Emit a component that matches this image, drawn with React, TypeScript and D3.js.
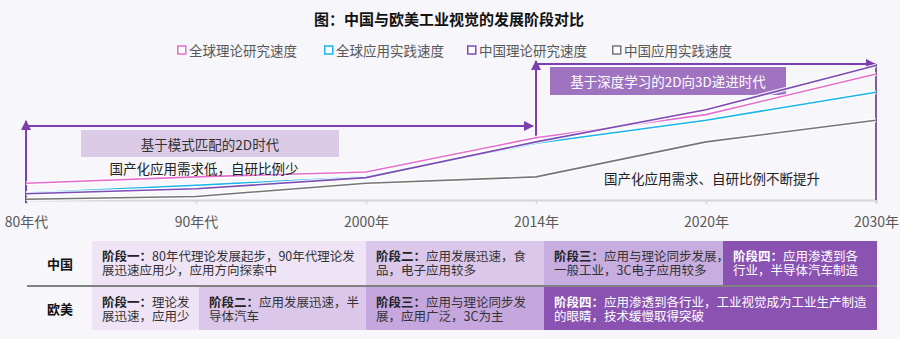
import React, { useEffect, useRef } from "react";
import * as d3 from "d3";

const categories = ["80年代", "90年代", "2000年", "2014年", "2020年", "2030年"];
const globalTheory = [1.2, 1.65, 2.0, 4.45, 6.1, 9.0];
const globalPractice = [0.5, 1.05, 1.65, 4.05, 5.7, 7.7];
const chinaTheory = [0.45, 0.8, 1.6, 4.15, 6.45, 9.6];
const chinaPractice = [0.05, 0.25, 1.2, 1.65, 4.15, 5.7];

const seriesNames = ["全球理论研究速度", "全球应用实践速度", "中国理论研究速度", "中国应用实践速度"];
const seriesColors = ["#e46fcf", "#1cb4ea", "#7d4cb5", "#767676"];

const rowLabels = ["中国", "欧美"];
const chinaStageTitles = ["阶段一：", "阶段二：", "阶段三：", "阶段四："];
const chinaStageText = [
  ["80年代理论发展起步，90年代理论发", "展迅速应用少，应用方向探索中"],
  ["应用发展迅速，食", "品，电子应用较多"],
  ["应用与理论同步发展，", "一般工业，3C电子应用较多"],
  ["应用渗透到各", "行业，半导体汽车制造"],
];
const westStageTitles = ["阶段一：", "阶段二：", "阶段三：", "阶段四："];
const westStageText = [
  ["理论发", "展迅速，应用少"],
  ["应用发展迅速，半", "导体汽车"],
  ["应用与理论同步发", "展，应用广泛，3C为主"],
  ["应用渗透到各行业，工业视觉成为工业生产制造", "的眼睛，技术缓慢取得突破"],
];

const FONT = "'Noto Sans CJK SC', 'Noto Sans', sans-serif";
const PURPLE = "#7b3fb0";

function App() {
  const ref = useRef<SVGSVGElement>(null);

  useEffect(() => {
    const svg = d3.select(ref.current);
    svg.selectAll("*").remove();
    const W = 900;
    const H = 339;

    svg.append("rect").attr("width", W).attr("height", H).attr("fill", "#f7f6fa");

    const defs = svg.append("defs");
    defs
      .append("marker")
      .attr("id", "arrow")
      .attr("viewBox", "0 0 10 10")
      .attr("refX", 9)
      .attr("refY", 5)
      .attr("markerWidth", 5)
      .attr("markerHeight", 5)
      .attr("markerUnits", "strokeWidth")
      .attr("orient", "auto")
      .append("path")
      .attr("d", "M0,0 L10,5 L0,10 z")
      .attr("fill", PURPLE);

    const label = (txt: string, x: number, y: number, size: number, fill: string, anchor = "middle", weight = "normal") =>
      svg
        .append("text")
        .text(txt)
        .attr("x", x)
        .attr("y", y)
        .attr("text-anchor", anchor)
        .attr("dominant-baseline", "central")
        .attr("font-family", FONT)
        .attr("font-size", size)
        .attr("font-weight", weight)
        .attr("fill", fill);

    // title
    label("图：中国与欧美工业视觉的发展阶段对比", 449, 18, 15, "#111", "middle", "bold");

    // legend
    const legendX = [177, 324, 467, 612];
    const legend = svg
      .selectAll("g.legend")
      .data(seriesNames)
      .enter()
      .append("g")
      .attr("class", "legend")
      .attr("transform", (d, i) => `translate(${legendX[i]},50)`);
    legend
      .append("rect")
      .attr("x", 0.75)
      .attr("y", -4)
      .attr("width", 8)
      .attr("height", 8)
      .attr("fill", "#fff")
      .attr("stroke", (d, i) => seriesColors[i])
      .attr("stroke-width", 1.5);
    legend
      .append("text")
      .text((d) => d)
      .attr("x", 12)
      .attr("y", 0)
      .attr("dominant-baseline", "central")
      .attr("font-family", FONT)
      .attr("font-size", 13.5)
      .attr("fill", "#595959");

    const xScale = d3.scalePoint().domain(categories).range([26, 876]);
    const yScale = d3.scaleLinear().domain([0, 10]).range([200, 60]);

    // x axis
    const xAxis = d3.axisBottom(xScale).tickSize(4).tickPadding(13);
    const xAxisG = svg.append("g").attr("transform", "translate(0,200)").call(xAxis);
    xAxisG.select(".domain").attr("stroke", "#d6d6d9").attr("stroke-width", 2);
    xAxisG.selectAll(".tick line").attr("stroke", "#d6d6d9").attr("stroke-width", 1.5);
    xAxisG
      .selectAll(".tick text")
      .attr("font-family", FONT)
      .attr("font-size", 14)
      .attr("fill", "#595959");

    // period brackets
    const x0 = xScale("80年代")!;
    const x2014 = xScale("2014年")!;
    const x2030 = xScale("2030年")!;
    const bracket = svg.append("g").attr("stroke", PURPLE).attr("stroke-width", 2).attr("fill", "none");
    bracket.append("line").attr("x1", x0).attr("y1", 203).attr("x2", x0).attr("y2", 121).attr("marker-end", "url(#arrow)");
    bracket.append("line").attr("x1", x0).attr("y1", 126).attr("x2", 533).attr("y2", 126).attr("marker-end", "url(#arrow)");
    bracket.append("line").attr("x1", x2014).attr("y1", 139).attr("x2", x2014).attr("y2", 61).attr("marker-end", "url(#arrow)");
    bracket.append("line").attr("x1", x2014).attr("y1", 64).attr("x2", x2030 - 1).attr("y2", 64).attr("marker-end", "url(#arrow)");
    bracket.append("line").attr("x1", x2030).attr("y1", 64).attr("x2", x2030).attr("y2", 200).attr("stroke", "#7d5fa0");

    // era boxes
    svg.append("rect").attr("x", 81).attr("y", 130).attr("width", 258).attr("height", 27).attr("fill", "#dccbe6");
    svg.append("rect").attr("x", 550).attr("y", 67).attr("width", 236).attr("height", 28).attr("fill", "#9f73c0");

    // speed lines
    const allSeries = [chinaPractice, globalPractice, globalTheory, chinaTheory];
    const colorOf = [seriesColors[3], seriesColors[1], seriesColors[0], seriesColors[2]];
    const line = d3
      .line<number>()
      .x((d, i) => xScale(categories[i])!)
      .y((d) => yScale(d));
    allSeries.forEach((values, k) => {
      svg
        .append("path")
        .datum(values)
        .attr("d", line)
        .attr("fill", "none")
        .attr("stroke", "#ffffff")
        .attr("stroke-opacity", 0.85)
        .attr("stroke-width", 4);
      svg
        .append("path")
        .datum(values)
        .attr("d", line)
        .attr("fill", "none")
        .attr("stroke", colorOf[k])
        .attr("stroke-width", 1.6);
    });

    // era captions sit on top of the lines
    label("基于模式匹配的2D时代", 210, 143.5, 13.5, "#333");
    label("国产化应用需求低，自研比例少", 204, 168, 13.5, "#222");
    label("基于深度学习的2D向3D递进时代", 668, 81, 13.5, "#fff");
    label("国产化应用需求、自研比例不断提升", 712, 178, 13.5, "#222");

    // stage table
    const rows = [
      { top: 241, bottom: 285, edges: [92, 366, 544, 723, 877], titles: chinaStageTitles, text: chinaStageText, fills: ["#eee4f6", "#dac7ea", "#c8aee0", "#8a52b1"] },
      { top: 287, bottom: 330, edges: [92, 199, 366, 544, 877], titles: westStageTitles, text: westStageText, fills: ["#eee4f6", "#dac7ea", "#c5a6dd", "#8a52b1"] },
    ];
    rows.forEach((row, r) => {
      const cy = (row.top + row.bottom) / 2;
      label(rowLabels[r], 60, cy, 13, "#111", "middle", "bold");
      row.titles.forEach((title, c) => {
        const x1 = row.edges[c];
        const x2 = row.edges[c + 1];
        svg
          .append("rect")
          .attr("x", x1)
          .attr("y", row.top)
          .attr("width", x2 - x1)
          .attr("height", row.bottom - row.top)
          .attr("fill", row.fills[c]);
        const color = c === 3 ? "#fff" : "#333";
        const head = label(title, x1 + 10, cy - 7.5, 12.5, c === 3 ? "#fff" : "#222", "start", "bold");
        const w = (head.node() as SVGTextElement).getComputedTextLength();
        label(row.text[c][0], x1 + 10 + w, cy - 7.5, 12.5, color, "start");
        label(row.text[c][1], x1 + 10, cy + 6.5, 12.5, color, "start");
      });
    });
    svg.append("line").attr("x1", 27).attr("x2", 877).attr("y1", 286).attr("y2", 286).attr("stroke", "#5a5a5a").attr("stroke-width", 1.5);
  }, []);

  return <svg ref={ref} width={900} height={339} style={{ position: "absolute", left: 0, top: 0 }} />;
}

export default App;
